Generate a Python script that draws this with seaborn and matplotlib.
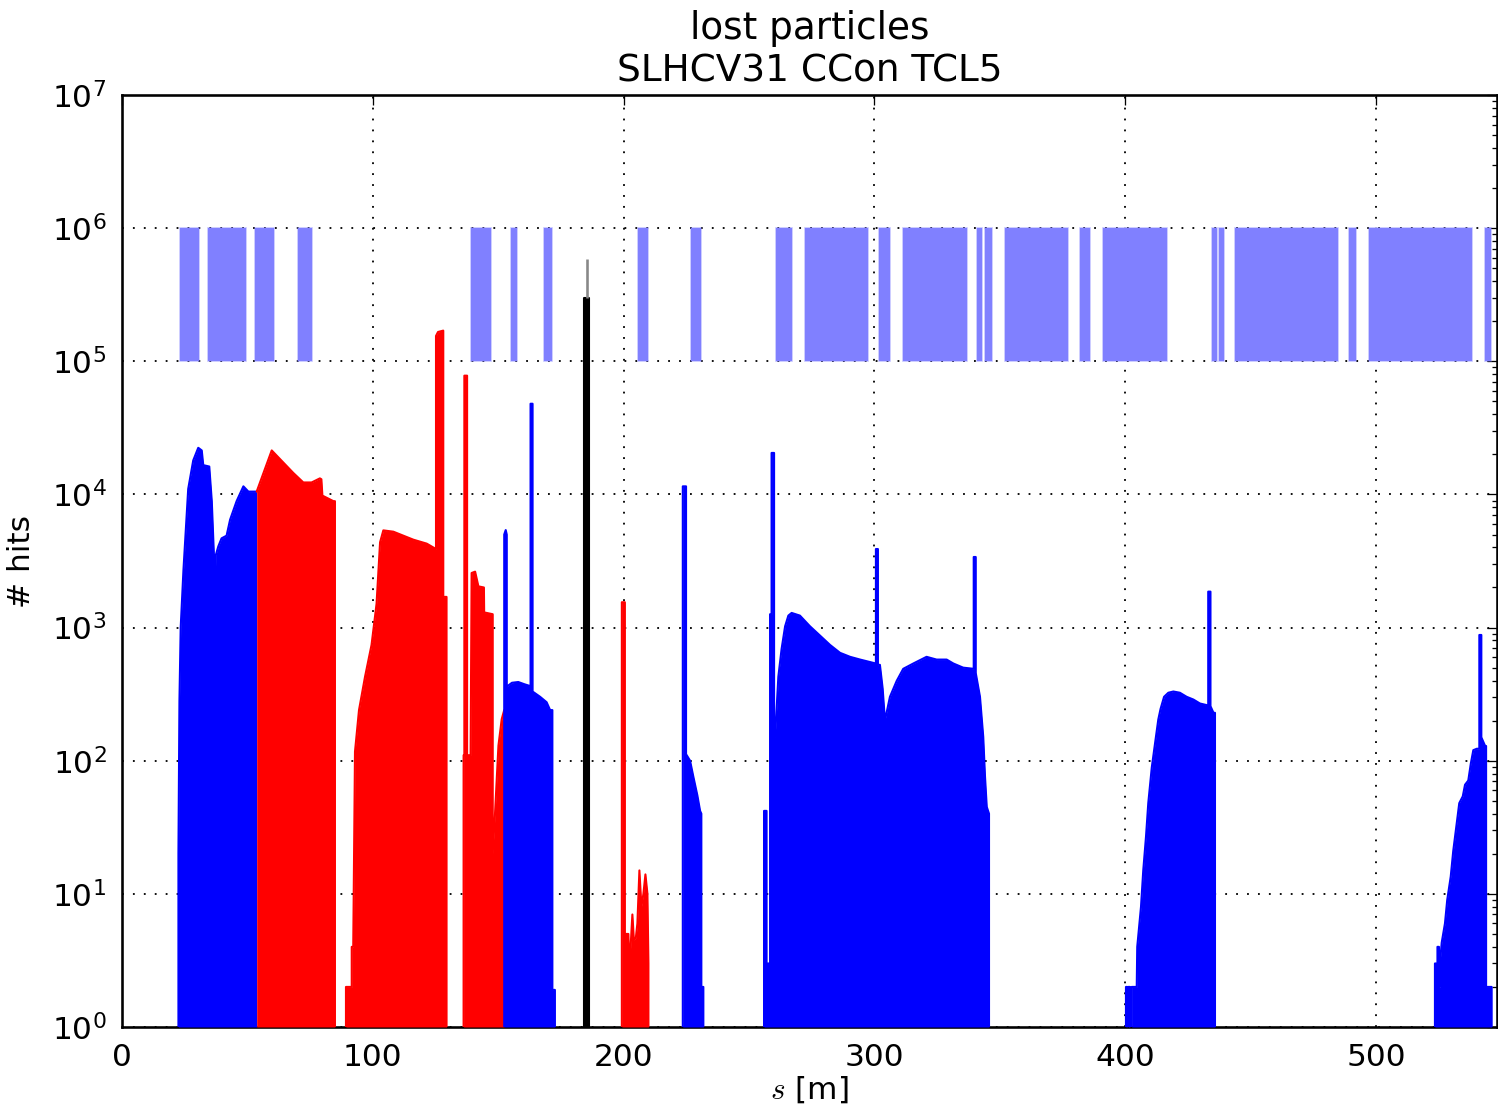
import matplotlib
matplotlib.use("Agg")
import matplotlib.pyplot as plt
import matplotlib.ticker as mticker
import seaborn as sns

# ---------------- data ----------------
# aperture elements (drawn as boxes between 1e5 and 1e6)
aper_start = [23.1, 34.2, 53.0, 70.2, 139.2, 155.0, 168.3, 205.6, 226.9, 260.8,
              272.3, 302.0, 311.3, 341.0, 344.2, 351.9, 382.0, 391.0, 434.8, 437.5,
              443.9, 489.3, 497.3, 543.5]
aper_end = [30.7, 49.4, 60.6, 75.8, 147.1, 157.6, 171.3, 209.8, 230.9, 267.1,
            297.6, 306.2, 336.8, 343.1, 346.7, 377.3, 386.0, 416.5, 436.7, 439.4,
            485.0, 492.2, 538.3, 545.7]
aper_low, aper_high = 1e5, 1e6

# lost-particle profiles (s [m], hits)
blue1_s = [22.5, 22.5, 22.9, 23.4, 24.5, 26.4, 28.4, 30.4, 31.8, 32.4, 34.8, 35.8,
           37.1, 37.4, 38.4, 39.7, 41.7, 43.1, 45.7, 48.4, 50.4, 53.7]
blue1_h = [1, 20, 280, 1000, 2700, 1.1e4, 1.8e4, 2.24e4, 2.14e4, 1.66e4, 1.62e4, 8.9e3,
           2.14e3, 3.5e3, 4.07e3, 4.68e3, 4.9e3, 6.46e3, 8.9e3, 1.15e4, 1.05e4, 1.05e4]

red1_s = [53.7, 59.7, 68.3, 72.3, 75.6, 78.9, 79.5, 79.9, 84.3, 84.9, 84.9]
red1_h = [1.05e4, 2.14e4, 1.45e4, 1.23e4, 1.23e4, 1.32e4, 1.3e4, 9.8e3, 8.9e3, 8.9e3, 1]

red2_s = [89.3, 89.3, 91.6, 91.6, 92.2, 92.9, 94.5, 96.9, 99.5, 101.5, 102.9, 104.2,
          108.2, 116.2, 121.5, 125.2, 125.2, 126.0, 128.1, 128.1, 129.4, 129.4]
red2_h = [1, 2, 2, 4, 4, 117, 240, 427, 741, 1510, 4370, 5370,
          5250, 4570, 4270, 3890, 1.55e5, 1.66e5, 1.7e5, 1700, 1700, 1]

red3_s = [136.2, 136.2, 136.5, 136.5, 137.6, 137.6, 139.0, 139.4, 140.8, 142.1, 144.3,
          144.4, 147.8, 147.8, 148.7, 150.1, 151.4, 152.4, 152.4]
red3_h = [1, 110, 110, 7.8e4, 7.8e4, 110, 110, 2570, 2630, 2040, 2000,
          1300, 1260, 20, 39, 130, 205, 240, 1]

blue2_s = [152.4, 152.4, 153.0, 153.4, 153.4, 155.5, 158.0, 160.5, 162.9, 162.9, 163.7,
           163.7, 166.7, 169.3, 170.7, 171.6, 171.6, 172.6, 172.6]
blue2_h = [1, 5.0e3, 5.4e3, 5.0e3, 360, 385, 390, 375, 363, 4.8e4, 4.8e4,
           331, 302, 275, 240, 240, 1.9, 1.9, 1]

black_s = [184.3, 184.3, 186.3, 186.3]
black_h = [1, 3.0e5, 3.0e5, 1]
black_tip_s = 185.4
black_tip_h = [3.0e5, 5.9e5]

red4_s = [199.3, 199.3, 200.5, 200.5, 201.9, 202.3, 202.8, 203.5, 204.1, 204.9, 205.5,
          206.3, 207.1, 207.9, 208.7, 209.5, 209.9, 209.9]
red4_h = [1, 1.55e3, 1.55e3, 5, 5, 3, 4, 7, 4.5, 4.7, 6,
          15, 8, 10, 14, 10, 3, 1]

blue3_s = [223.6, 223.6, 224.9, 224.9, 226.5, 227.8, 229.4, 230.5, 231.0, 231.0, 231.8, 231.8]
blue3_h = [1, 1.15e4, 1.15e4, 112, 100, 76, 55, 42, 40, 2, 2, 1]

blue4_s = [256.0, 256.0, 257.0, 257.0, 258.4, 258.4, 259.0, 259.0, 260.0, 260.0, 260.4,
           261.7, 263.0, 264.4, 265.7, 267.0, 270.3, 274.3, 278.3, 282.3, 286.3, 290.3,
           294.3, 300.6, 300.6, 301.4, 301.4, 302.2, 303.3, 304.2, 306.2, 308.9, 311.5,
           315.5, 320.8, 324.8, 328.8, 331.5, 335.4, 339.6, 339.6, 340.4, 340.4, 342.1,
           343.4, 344.1, 344.8, 345.7, 345.7]
blue4_h = [1, 42, 42, 3, 3, 1260, 1260, 2.05e4, 2.05e4, 150, 150,
           427, 692, 1023, 1230, 1288, 1230, 1023, 871, 741, 646, 603,
           575, 537, 3890, 3890, 525, 525, 347, 200, 302, 398, 490,
           537, 603, 575, 575, 537, 500, 490, 3390, 3390, 457, 302,
           151, 76, 45, 40, 1]

blue5_s = [400.3, 400.3, 400.8, 400.8, 401.2, 401.2, 401.9, 401.9, 402.6, 402.6, 404.6,
           404.8, 406.3, 407.2, 408.3, 409.2, 410.6, 411.9, 413.2, 414.1, 415.5, 417.2,
           419.2, 421.8, 424.5, 427.2, 429.8, 433.1, 433.1, 434.0, 434.0, 435.2, 435.8, 435.8]
blue5_h = [1, 2, 2, 1, 1, 2, 2, 1, 1, 2, 2,
           4, 8, 15, 27, 48, 89, 135, 204, 245, 302, 324,
           331, 324, 302, 288, 269, 260, 1862, 1862, 257, 229, 229, 1]

blue6_s = [523.5, 523.5, 524.5, 524.5, 525.1, 525.1, 525.5, 525.5, 526.2, 527.5, 528.4,
           529.8, 530.8, 532.2, 533.2, 534.6, 535.5, 536.8, 537.8, 538.8, 540.2, 541.2,
           541.2, 542.0, 542.0, 543.5, 543.9, 543.9, 546.1, 546.1]
blue6_h = [1, 3, 3, 4, 4, 2, 2, 3, 4.3, 6, 9,
           13.5, 21, 34, 48, 54, 66, 71, 95, 120, 123, 123,
           880, 880, 150, 129, 129, 2, 2, 1]

title_text = "lost particles\nSLHCV31 CCon TCL5"
xlabel_text = r"$s$ [m]"
ylabel_text = "# hits"

# ---------------- style ----------------
sns.set_style("white")
plt.rcParams.update({
    "font.size": 12,
    "text.color": "black",
    "axes.labelcolor": "black",
    "xtick.color": "black",
    "ytick.color": "black",
    "axes.edgecolor": "black",
    "axes.linewidth": 1.0,
    "xtick.direction": "in",
    "ytick.direction": "in",
    "xtick.major.size": 4,
    "ytick.major.size": 4,
    "xtick.minor.size": 2,
    "ytick.minor.size": 2,
    "xtick.major.width": 0.5,
    "ytick.major.width": 0.5,
    "xtick.minor.width": 0.5,
    "ytick.minor.width": 0.5,
    "xtick.major.pad": 6,
    "ytick.major.pad": 6,
    "mathtext.fontset": "cm",
    "axes.titlepad": 5,
})
plt.rcParams["font.family"] = ["DejaVu Sans"]

W, H, DPI = 1498, 1111, 187.25
fig = plt.figure(figsize=(W / DPI, H / DPI), dpi=DPI)
ax = fig.add_axes([122 / W, 1 - 1027 / H, (1497 - 122) / W, (1027 - 95) / H])
ax.set_yscale("log")
ax.set_xlim(0, (1497 - 122) / 2.508)
ax.set_ylim(1, 1e7)

# aperture boxes
widths = [e - s for s, e in zip(aper_start, aper_end)]
ax.bar(aper_start, [aper_high - aper_low] * len(aper_start), bottom=aper_low,
       width=widths, align="edge", color="#8080ff", edgecolor=(0.5, 0.5, 1.0, 0.5),
       linewidth=0.6, zorder=2)

segments = [
    (blue1_s, blue1_h, "#0000ff"),
    (red1_s, red1_h, "#ff0000"),
    (red2_s, red2_h, "#ff0000"),
    (red3_s, red3_h, "#ff0000"),
    (blue2_s, blue2_h, "#0000ff"),
    (red4_s, red4_h, "#ff0000"),
    (blue3_s, blue3_h, "#0000ff"),
    (blue4_s, blue4_h, "#0000ff"),
    (blue5_s, blue5_h, "#0000ff"),
    (blue6_s, blue6_h, "#0000ff"),
    (black_s, black_h, "#000000"),
]
for s, h, c in segments:
    ax.fill_between(s, 1, h, color=c, linewidth=0, zorder=3)
    sns.lineplot(x=s, y=h, color=c, estimator=None, sort=False, linewidth=0.8,
                 ax=ax, zorder=3)

ax.vlines(black_tip_s, black_tip_h[0], black_tip_h[1], color="#888888", linewidth=1.0, zorder=3)

ax.grid(True, which="major", color="k", linestyle=(0, (1, 5)), linewidth=0.7)
ax.set_axisbelow(True)
ax.yaxis.set_major_locator(mticker.LogLocator(base=10, numticks=10))
ax.yaxis.set_minor_locator(mticker.LogLocator(base=10, subs=range(2, 10), numticks=20))
ax.xaxis.set_major_locator(mticker.MultipleLocator(100))
ax.tick_params(which="both", top=True, right=True, direction="in", colors="black")
for sp in ax.spines.values():
    sp.set_color("black")
    sp.set_linewidth(1.0)

ax.set_title(title_text, fontsize=14.4, linespacing=1.2, color="black")
ax.set_xlabel(xlabel_text, fontsize=12, labelpad=1, color="black")
ax.set_ylabel(ylabel_text, fontsize=12, labelpad=6, color="black")

fig.savefig("out.png", dpi=DPI)
